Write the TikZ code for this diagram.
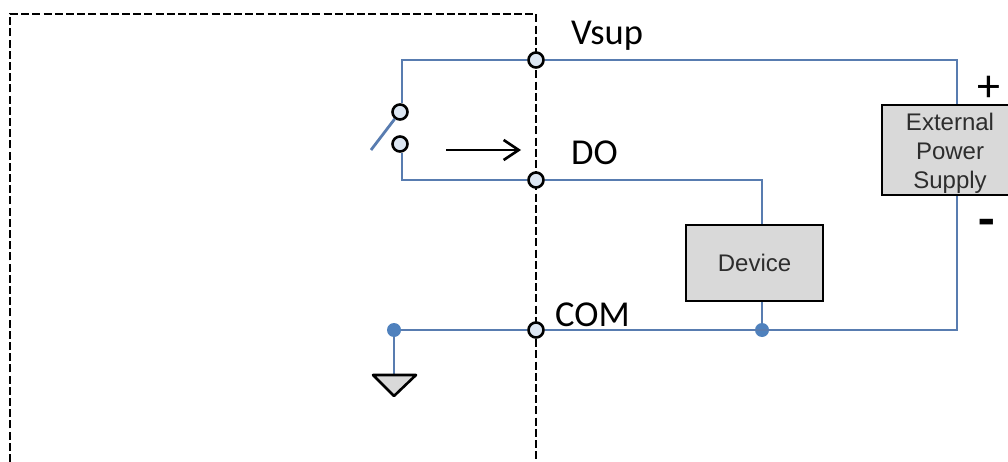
\documentclass[tikz,border=0pt]{standalone}
\usepackage{xcolor}
\usepackage{fontspec}
\usepackage{tikz}
\usetikzlibrary{arrows.meta}
\setmainfont{Carlito}
\newfontfamily\boxfont{Liberation Sans}
\definecolor{wireblue}{RGB}{88,124,176}
\definecolor{dotblue}{RGB}{79,129,189}
\definecolor{termfill}{RGB}{220,230,242}
\definecolor{boxgray}{RGB}{217,217,217}
\definecolor{boxtext}{RGB}{45,45,45}
\tikzset{
  wire/.style={draw=wireblue, line width=2.8pt},
  term/.style={draw=black, circle, fill=termfill, line width=2.6pt, minimum size=15pt, inner sep=0pt},
  joint/.style={circle, fill=dotblue, minimum size=14pt, inner sep=0pt},
  unit/.style={draw=black, fill=boxgray, line width=2.6pt, inner sep=0pt, align=center, text=boxtext,
    font=\boxfont\fontsize{24}{29}\selectfont},
  pinlabel/.style={anchor=base west, inner sep=0pt, font=\fontsize{36.5}{36.5}\selectfont}
}
\begin{document}
\begin{tikzpicture}[x=1pt, y=-1pt]
\useasboundingbox (0,0) rectangle (1008,462);
% module outline
\coordinate (boxbl) at (10,462);
\coordinate (boxtl) at (10,14);
\coordinate (boxtr) at (536,14);
\coordinate (boxbr) at (536,462);
\draw[black, line width=2.6pt, dash pattern=on 8pt off 3.2pt] (boxbl) -- (boxtl) -- (boxtr) -- (boxbr);

% units
\node[unit, minimum width=137pt, minimum height=76pt] (device) at (754.5,263) {Device};
\node[unit, minimum width=136pt, minimum height=90pt] (supply) at (950,150) {\rule{0pt}{23pt}External\\Power\\Supply};

% terminals
\node[term] (vsup) at (536,60) {};
\node[term] (do) at (536,180) {};
\node[term] (com) at (536,330) {};
\node[term] (swtop) at (400,112) {};
\node[term] (swbot) at (400,144) {};
\node[joint] (devjoint) at (762,330) {};
\node[joint] (gndjoint) at (394,330) {};

% corners
\coordinate (vsupleft) at (402,60);
\coordinate (vsupright) at (957,60);
\coordinate (doleft) at (402,180);
\coordinate (doright) at (762,180);
\coordinate (comright) at (957,330);
\coordinate (armend) at (371,150);
\coordinate (arrowstart) at (446,150);
\coordinate (arrowend) at (521,150);

% wires
\draw[wire] (swtop.north -| vsupleft) -- (vsupleft) -- (vsup);
\draw[wire] (vsup) -- (vsupright) -- (supply.north -| vsupright);
\draw[wire] (swbot.south -| doleft) -- (doleft) -- (do);
\draw[wire] (do) -- (doright) -- (device.north -| doright);
\draw[wire] (gndjoint) -- (com);
\draw[wire] (com) -- (comright) -- (supply.south -| comright);
\draw[wire] (device.south -| devjoint) -- (devjoint);
\draw[wire] (swtop) -- (armend);

% ground
\coordinate (gndleft) at (373,375);
\coordinate (gndright) at (416,375);
\coordinate (gndtip) at (394,396);
\draw[wire] (gndjoint) -- (gndjoint |- gndleft);
\draw[black, fill=boxgray, line width=2.6pt, line join=round] (gndleft) -- (gndright) -- (gndtip) -- cycle;

\draw[-{Straight Barb[length=15pt, width=20pt]}, black, line width=2.6pt] (arrowstart) -- (arrowend);

% labels
\node[pinlabel] (vsuplabel) at (571,45) {Vsup};
\node[pinlabel] (dolabel) at (571,165) {DO};
\node[pinlabel] (comlabel) at (555,326) {COM};
\node[pinlabel, font=\fontsize{46}{46}\selectfont] (plus) at (977,102) {+};
\node[pinlabel, font=\bfseries\fontsize{54}{54}\selectfont] (minus) at (978,237) {-};
\end{tikzpicture}
\end{document}
